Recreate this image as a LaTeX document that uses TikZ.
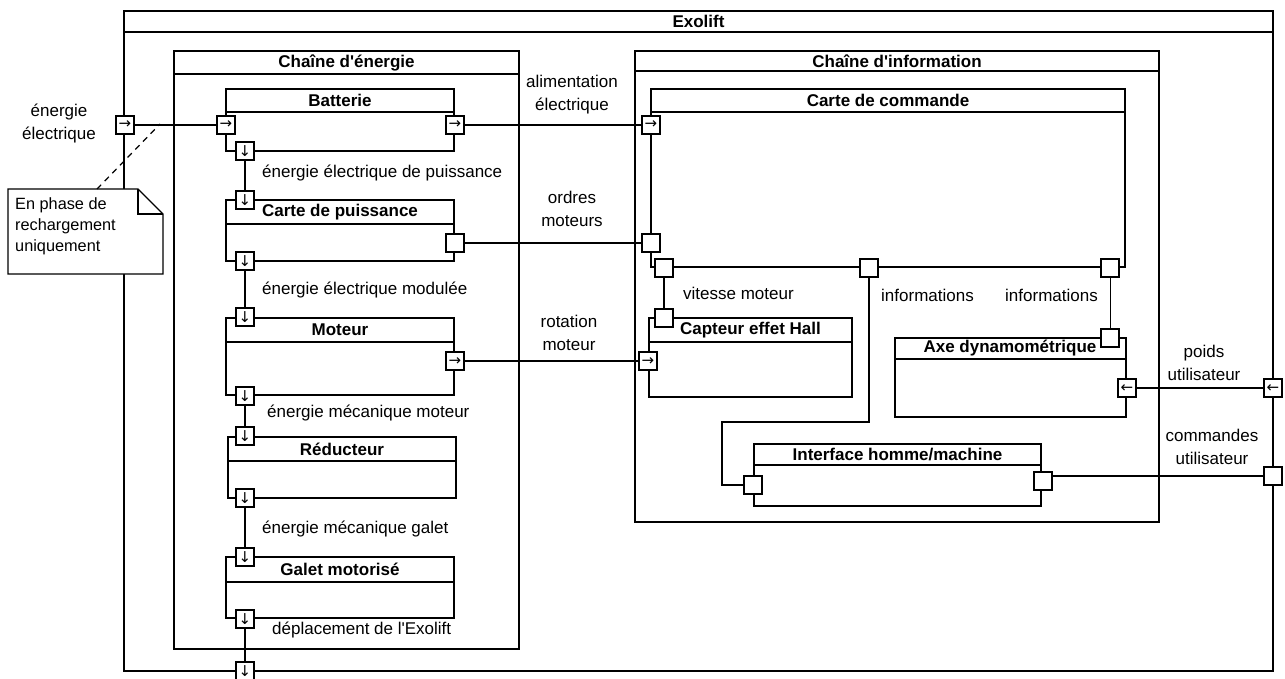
\documentclass[tikz,border=0pt]{standalone}
\usepackage{fontspec}
\setmainfont{Liberation Sans}
\newfontfamily\symf{DejaVu Sans}
\newcommand\mkblock[7]{%
  \node[box, minimum width={#4-#2}, minimum height={#5-#3}, anchor=north west] (#1) at (#2,#3) {};
  \draw[line width=1.5pt] (#2,#6) -- (#4,#6);
  \node[ttl] (#1T) at ({(#2+#4)/2},{(#3+#6)/2}) {#7};}
\newcommand\harr[1]{\smash{\lower4pt\hbox{#1}}}
\begin{document}
\begin{tikzpicture}[x=1pt,y=-1pt,
  box/.style={draw, line width=1.5pt, fill=white, inner sep=0pt, outer sep=0pt},
  ttl/.style={font=\bfseries\fontsize{17}{20}\selectfont, inner sep=0pt},
  ln/.style={line width=1.4pt},
  port/.style={draw, fill=white, line width=1.2pt, minimum size=18pt, inner sep=0pt, outer sep=0pt, font=\symf\fontsize{15}{15}\selectfont},
  lbl/.style={align=center, font=\fontsize{17}{23}\selectfont, inner sep=0pt},
  notetxt/.style={align=left, font=\fontsize{16.3}{21}\selectfont, inner sep=0pt}]
\useasboundingbox (0,0) rectangle (1285,679);
% frames
\mkblock{exo}{124}{11}{1273}{671}{32}{Exolift}
\mkblock{che}{174}{51}{519}{649}{74}{Chaîne d\textquotesingle énergie}
\mkblock{chi}{635}{51}{1159}{522}{71}{Chaîne d\textquotesingle information}
% note
\draw[line width=1.2pt, fill=white] (8,189) -- (138,189) -- (163,214) -- (163,274) -- (8,274) -- cycle;
\draw[line width=1.2pt] (138,189) -- (138,214) -- (163,214);
\node[notetxt, anchor=north west] (note) at (15,197) {En phase de\\rechargement\\uniquement};
\coordinate (noteTop) at (97,189);
\coordinate (dashEnd) at (160,124);
\draw[line width=1.2pt, dashed, dash pattern=on 6pt off 5pt] (noteTop) -- (dashEnd);
% blocks
\mkblock{bat}{226}{89}{454}{151}{112}{Batterie}
\mkblock{cdp}{226}{200}{454}{261}{224}{Carte de puissance}
\mkblock{mot}{226}{318}{454}{395}{342}{Moteur}
\mkblock{red}{228}{437}{456}{498}{461}{Réducteur}
\mkblock{gal}{226}{557}{454}{618}{582}{Galet motorisé}
\mkblock{cdc}{651}{89}{1125}{267}{112}{Carte de commande}
\mkblock{cap}{649}{318}{852}{397}{342}{Capteur effet Hall}
\mkblock{axe}{895}{338}{1126}{417}{359}{}
\node[ttl] (axeT2) at (1010,348) {Axe dynamométrique};
\mkblock{ihm}{754}{444}{1041}{506}{465}{Interface homme/machine}
% ports
\node[port] (exoIn) at (125,125) {\harr{→}};
\node[port] (batIn) at (226,125) {\harr{→}};
\node[port] (batOut) at (455,125) {\harr{→}};
\node[port] (batDown) at (245,151) {↓};
\node[port] (cdpUp) at (245,200) {↓};
\node[port] (cdpOut) at (455,243) {};
\node[port] (cdpDown) at (245,261) {↓};
\node[port] (motUp) at (245,317) {↓};
\node[port] (motOut) at (455,361) {\harr{→}};
\node[port] (motDown) at (245,396) {↓};
\node[port] (redUp) at (245,436) {↓};
\node[port] (redDown) at (245,498) {↓};
\node[port] (galUp) at (245,557) {↓};
\node[port] (galDown) at (245,619) {↓};
\node[port] (exoDown) at (245,671) {↓};
\node[port] (cdcIn) at (651,125) {\harr{→}};
\node[port] (cdcOrd) at (651,243) {};
\node[port] (cdcB1) at (664,268) {};
\node[port] (cdcB2) at (869,268) {};
\node[port] (cdcB3) at (1110,268) {};
\node[port] (capUp) at (664,318) {};
\node[port] (capIn) at (648,361) {\harr{→}};
\node[port] (axeUp) at (1110,338) {};
\node[port] (axeIn) at (1127,388) {\harr{←}};
\node[port] (exoPoids) at (1273,388) {\harr{←}};
\node[port] (ihmL) at (753,485) {};
\node[port] (ihmR) at (1043,481) {};
\node[port] (exoCmd) at (1273,476) {};
% connectors
\coordinate (bendA) at (722,422);
\draw[ln] (exoIn) -- (batIn);
\draw[ln] (batOut) -- (cdcIn);
\draw[ln] (cdpOut) -- (cdcOrd);
\draw[ln] (motOut) -- (capIn);
\draw[ln] (batDown) -- (cdpUp);
\draw[ln] (cdpDown) -- (motUp);
\draw[ln] (motDown) -- (redUp);
\draw[ln] (redDown) -- (galUp);
\draw[ln] (galDown) -- (exoDown);
\draw[ln] (cdcB1) -- (capUp);
\draw[ln] (cdcB2.south) |- (bendA) |- (ihmL.west);
\draw[line width=1pt] (cdcB3) -- (axeUp);
\draw[ln] (axeIn) -- (exoPoids);
\draw[ln] (exoCmd.west) -- (exoCmd.west -| ihmR.east);
% labels
\node[lbl] (lEE) at (59,123.5) {énergie\\électrique};
\node[lbl, anchor=west] (l1) at (262,173) {énergie électrique de puissance};
\node[lbl, anchor=west] (l2) at (262,290) {énergie électrique modulée};
\node[lbl, anchor=west] (l3) at (267,413) {énergie mécanique moteur};
\node[lbl, anchor=west] (l4) at (262,529) {énergie mécanique galet};
\node[lbl, anchor=west] (l5) at (272,630) {déplacement de l\textquotesingle Exolift};
\node[lbl] (lAl) at (572,94.5) {alimentation\\électrique};
\node[lbl] (lOr) at (572,208.5) {ordres\\moteurs};
\node[lbl] (lRo) at (569,333) {rotation\\moteur};
\node[lbl, anchor=west] (lVi) at (683,293) {vitesse moteur};
\node[lbl, anchor=west] (lI1) at (881,295) {informations};
\node[lbl, anchor=west] (lI2) at (1005,295) {informations};
\node[lbl] (lPo) at (1204,362.5) {poids\\utilisateur};
\node[lbl] (lCo) at (1212,447) {commandes\\utilisateur};
\end{tikzpicture}
\end{document}
